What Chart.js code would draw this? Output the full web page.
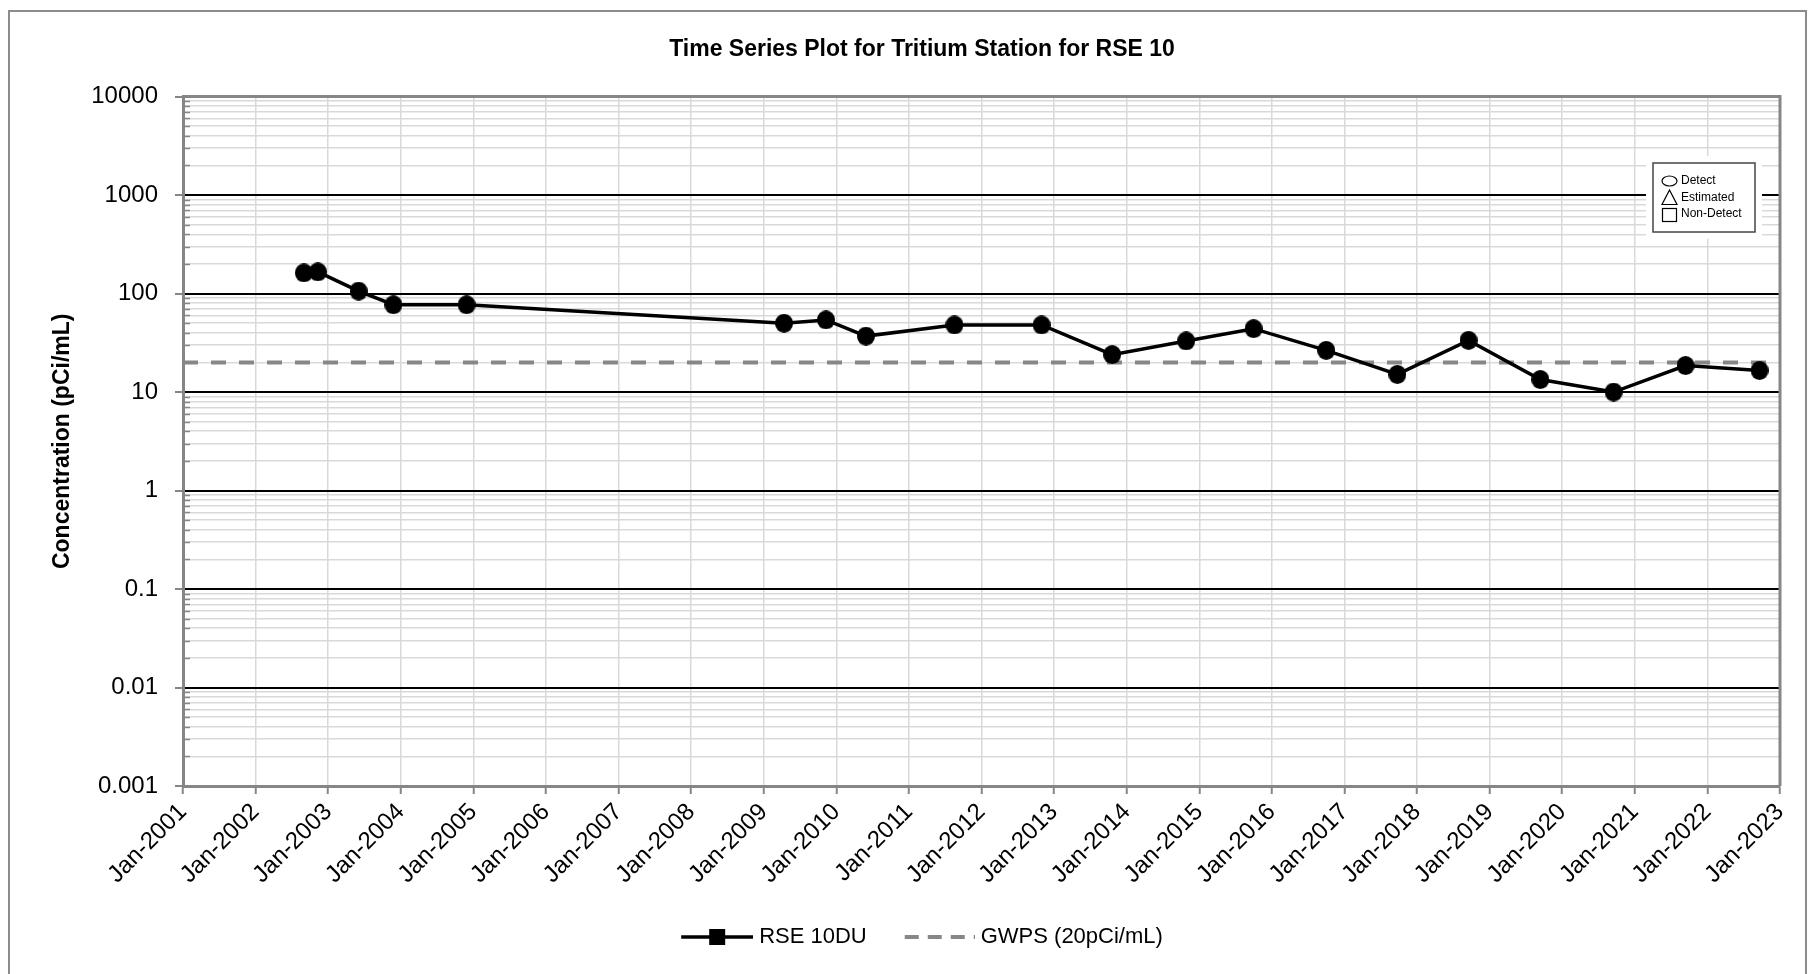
<!DOCTYPE html>
<html>
<head>
<meta charset="utf-8">
<title>Time Series Plot for Tritium Station for RSE 10</title>
<script src="https://cdn.jsdelivr.net/npm/chart.js@4.4.1/dist/chart.umd.min.js"></script>
<style>
  html, body { margin: 0; padding: 0; background: #fff; }
</style>
</head>
<body>
<canvas id="tritiumChart" width="1818" height="974"></canvas>
<script>
// Tritium time series, RSE 10
const sampleDates = [
    '2002-09-01', '2002-11-10', '2003-06-03', '2003-11-25', '2004-11-28',
    '2009-04-13', '2009-11-10', '2010-05-30', '2011-08-18', '2012-10-30',
    '2013-10-20', '2014-10-27', '2015-10-01', '2016-10-01', '2017-09-24',
    '2018-09-17', '2019-09-13', '2020-09-16', '2021-09-13', '2022-09-20'
];
const rse10du = [
    162, 166, 106, 77, 77,
    50, 54, 37, 48, 48,
    24, 33, 44, 26.5, 15.1,
    33.5, 13.4, 10, 18.6, 16.6
];
const gwpsDates = ['2001-01-01', '2023-01-01'];
const gwpsLevel = [20, 20];

const xTickLabels = [
    'Jan-2001', 'Jan-2002', 'Jan-2003', 'Jan-2004', 'Jan-2005', 'Jan-2006',
    'Jan-2007', 'Jan-2008', 'Jan-2009', 'Jan-2010', 'Jan-2011', 'Jan-2012',
    'Jan-2013', 'Jan-2014', 'Jan-2015', 'Jan-2016', 'Jan-2017', 'Jan-2018',
    'Jan-2019', 'Jan-2020', 'Jan-2021', 'Jan-2022', 'Jan-2023'
];
const yTickLabels = ['0.001', '0.01', '0.1', '1', '10', '100', '1000', '10000'];
const keyLabels = ['Detect', 'Estimated', 'Non-Detect'];

const FONT = "'Liberation Sans', Arial, sans-serif";
const AXIS_GREY = '#868686';
const LIGHT_GRID = '#d9d9d9';

// date string -> decimal year
function decYear(s) {
    const d = new Date(s + 'T00:00:00Z');
    const y = d.getUTCFullYear();
    const start = Date.UTC(y, 0, 1), end = Date.UTC(y + 1, 0, 1);
    return y + (d.getTime() - start) / (end - start);
}

// log ticks 1..9 per decade
const decades = yTickLabels.map(Number);
const yTicks = [];
decades.forEach(function (d, i) {
    if (i === decades.length - 1) { yTicks.push(d); return; }
    for (let m = 1; m <= 9; m++) yTicks.push(m === 1 ? d : Number((m * d).toPrecision(3)));
});
const isDecade = v => decades.indexOf(v) !== -1;

// marker + legend icons
function makeCanvas(w, h, draw) {
    const c = document.createElement('canvas');
    c.width = w; c.height = h;
    draw(c.getContext('2d'));
    return c;
}
const dotMarker = makeCanvas(18, 19, function (g) {
    g.fillStyle = '#000';
    g.beginPath();
    g.ellipse(9, 9.5, 9, 9.5, 0, 0, Math.PI * 2);
    g.fill();
});
// icons are 103 wide, centred on a 93 wide legend box
const rseIcon = makeCanvas(103, 20, function (g) {
    g.strokeStyle = '#000';
    g.lineWidth = 3.5;
    g.beginPath(); g.moveTo(31, 10); g.lineTo(103, 10); g.stroke();
    g.fillStyle = '#000';
    g.fillRect(59, 2, 16, 16);
});
const gwpsIcon = makeCanvas(103, 20, function (g) {
    g.strokeStyle = '#878787';
    g.lineWidth = 4;
    g.setLineDash([14, 9]);
    g.beginPath(); g.moveTo(33, 10); g.lineTo(103, 10); g.stroke();
});
const legendIcons = [rseIcon, gwpsIcon];

const plotFrame = {
    id: 'plotFrame',
    afterLayout(chart) {
        // nudge the bottom legend a little to the left
        chart.legend.left -= 26;
    },
    beforeDatasetsDraw(chart) {
        const {ctx, chartArea: a, scales: {y}} = chart;
        ctx.save();
        // small inner ticks on minor log steps
        ctx.strokeStyle = AXIS_GREY;
        ctx.lineWidth = 1.5;
        yTicks.forEach(function (v) {
            if (isDecade(v)) return;
            const py = Math.round(y.getPixelForValue(v)) + 0.5;
            ctx.beginPath(); ctx.moveTo(a.left, py); ctx.lineTo(a.left + 7, py); ctx.stroke();
        });
        // top and right edges
        ctx.strokeStyle = AXIS_GREY;
        ctx.lineWidth = 3;
        ctx.beginPath();
        ctx.moveTo(a.left, a.top); ctx.lineTo(a.right, a.top); ctx.lineTo(a.right, a.bottom);
        ctx.stroke();
        ctx.restore();
    },
    afterDraw(chart) {
        const ctx = chart.ctx;
        ctx.save();
        // outer chart border
        ctx.strokeStyle = '#8c8c8c';
        ctx.lineWidth = 2;
        ctx.strokeRect(9, 11, 1797, 1000);

        // detect / estimated / non-detect key
        const bx = 1653, by = 163, bw = 102, bh = 69;
        ctx.fillStyle = '#fff';
        ctx.fillRect(bx - 7, by - 7, bw + 14, bh + 14);
        ctx.strokeStyle = '#444';
        ctx.lineWidth = 1.5;
        ctx.strokeRect(bx, by, bw, bh);

        ctx.strokeStyle = '#000';
        ctx.lineWidth = 1.2;
        ctx.beginPath(); ctx.ellipse(1669.5, 181, 7.5, 5, 0, 0, Math.PI * 2); ctx.stroke();
        ctx.beginPath(); ctx.moveTo(1669.5, 190); ctx.lineTo(1677, 204.5); ctx.lineTo(1662, 204.5); ctx.closePath(); ctx.stroke();
        ctx.strokeRect(1662.5, 208.5, 14, 13);

        ctx.fillStyle = '#000';
        ctx.font = '12px ' + FONT;
        ctx.textBaseline = 'middle';
        ctx.textAlign = 'left';
        [181, 197.5, 214].forEach(function (ty, i) {
            ctx.fillText(keyLabels[i], 1681, ty);
        });
        ctx.restore();
    }
};

document.addEventListener('DOMContentLoaded', function () {
    const ctx = document.getElementById('tritiumChart').getContext('2d');
    const tritiumChart = new Chart(ctx, {
        type: 'line',
        data: {
            datasets: [{
                label: 'RSE 10DU',
                data: sampleDates.map((d, i) => ({x: decYear(d), y: rse10du[i]})),
                borderColor: '#000',
                backgroundColor: '#000',
                borderWidth: 3.5,
                pointStyle: dotMarker,
                pointRadius: 9,
                tension: 0
            }, {
                label: 'GWPS (20pCi/mL)',
                data: gwpsDates.map((d, i) => ({x: decYear(d), y: gwpsLevel[i]})),
                borderColor: '#878787',
                borderWidth: 4,
                borderDash: [15, 13],
                pointRadius: 0,
                tension: 0
            }]
        },
        options: {
            responsive: false,
            animation: false,
            layout: {padding: {left: 64, right: 38, top: 0, bottom: 16}},
            scales: {
                x: {
                    type: 'linear',
                    min: 2001,
                    max: 2023,
                    afterBuildTicks: function (scale) {
                        scale.ticks = xTickLabels.map(l => ({value: Number(l.slice(4))}));
                    },
                    afterFit: function (scale) { scale.height = 130; },
                    ticks: {
                        autoSkip: false,
                        minRotation: 45,
                        maxRotation: 45,
                        padding: 4,
                        color: '#000',
                        font: {family: FONT, size: 24},
                        callback: (v, i) => xTickLabels[i]
                    },
                    grid: {
                        color: LIGHT_GRID,
                        lineWidth: 1.5,
                        tickColor: AXIS_GREY,
                        tickWidth: 2,
                        tickLength: 8
                    },
                    border: {color: AXIS_GREY, width: 3}
                },
                y: {
                    type: 'logarithmic',
                    min: 0.001,
                    max: 10000,
                    afterBuildTicks: function (scale) {
                        scale.ticks = yTicks.map(v => ({value: v, major: isDecade(v)}));
                    },
                    afterFit: function (scale) { scale.width = 119; },
                    ticks: {
                        autoSkip: false,
                        padding: 17,
                        color: '#000',
                        font: {family: FONT, size: 24},
                        callback: function (v) {
                            const k = decades.indexOf(v);
                            return k === -1 ? '' : yTickLabels[k];
                        }
                    },
                    grid: {
                        color: c => (c.tick && isDecade(c.tick.value)) ? '#000' : LIGHT_GRID,
                        lineWidth: c => (c.tick && isDecade(c.tick.value)) ? 2 : 1.5,
                        tickColor: c => (c.tick && isDecade(c.tick.value)) ? AXIS_GREY : 'rgba(0,0,0,0)',
                        tickWidth: 2,
                        tickLength: 8
                    },
                    border: {color: AXIS_GREY, width: 3},
                    title: {
                        display: true,
                        text: 'Concentration (pCi/mL)',
                        color: '#000',
                        font: {family: FONT, size: 23, weight: 'bold'},
                        padding: {top: -15, bottom: 0}
                    }
                }
            },
            plugins: {
                title: {
                    display: true,
                    text: 'Time Series Plot for Tritium Station for RSE 10',
                    color: '#000',
                    font: {family: FONT, size: 23, weight: 'bold'},
                    padding: {top: 36, bottom: 33}
                },
                legend: {
                    display: true,
                    position: 'bottom',
                    labels: {
                        usePointStyle: true,
                        pointStyleWidth: 93,
                        padding: 10,
                        color: '#000',
                        font: {family: FONT, size: 22},
                        generateLabels: chart => chart.data.datasets.map((ds, i) => ({
                            text: ds.label,
                            pointStyle: legendIcons[i],
                            datasetIndex: i,
                            fillStyle: 'rgba(0,0,0,0)',
                            strokeStyle: 'rgba(0,0,0,0)',
                            lineWidth: 0,
                            hidden: false,
                            fontColor: '#000'
                        }))
                    }
                },
                tooltip: {enabled: false}
            }
        },
        plugins: [plotFrame]
    });
});
</script>
</body>
</html>
